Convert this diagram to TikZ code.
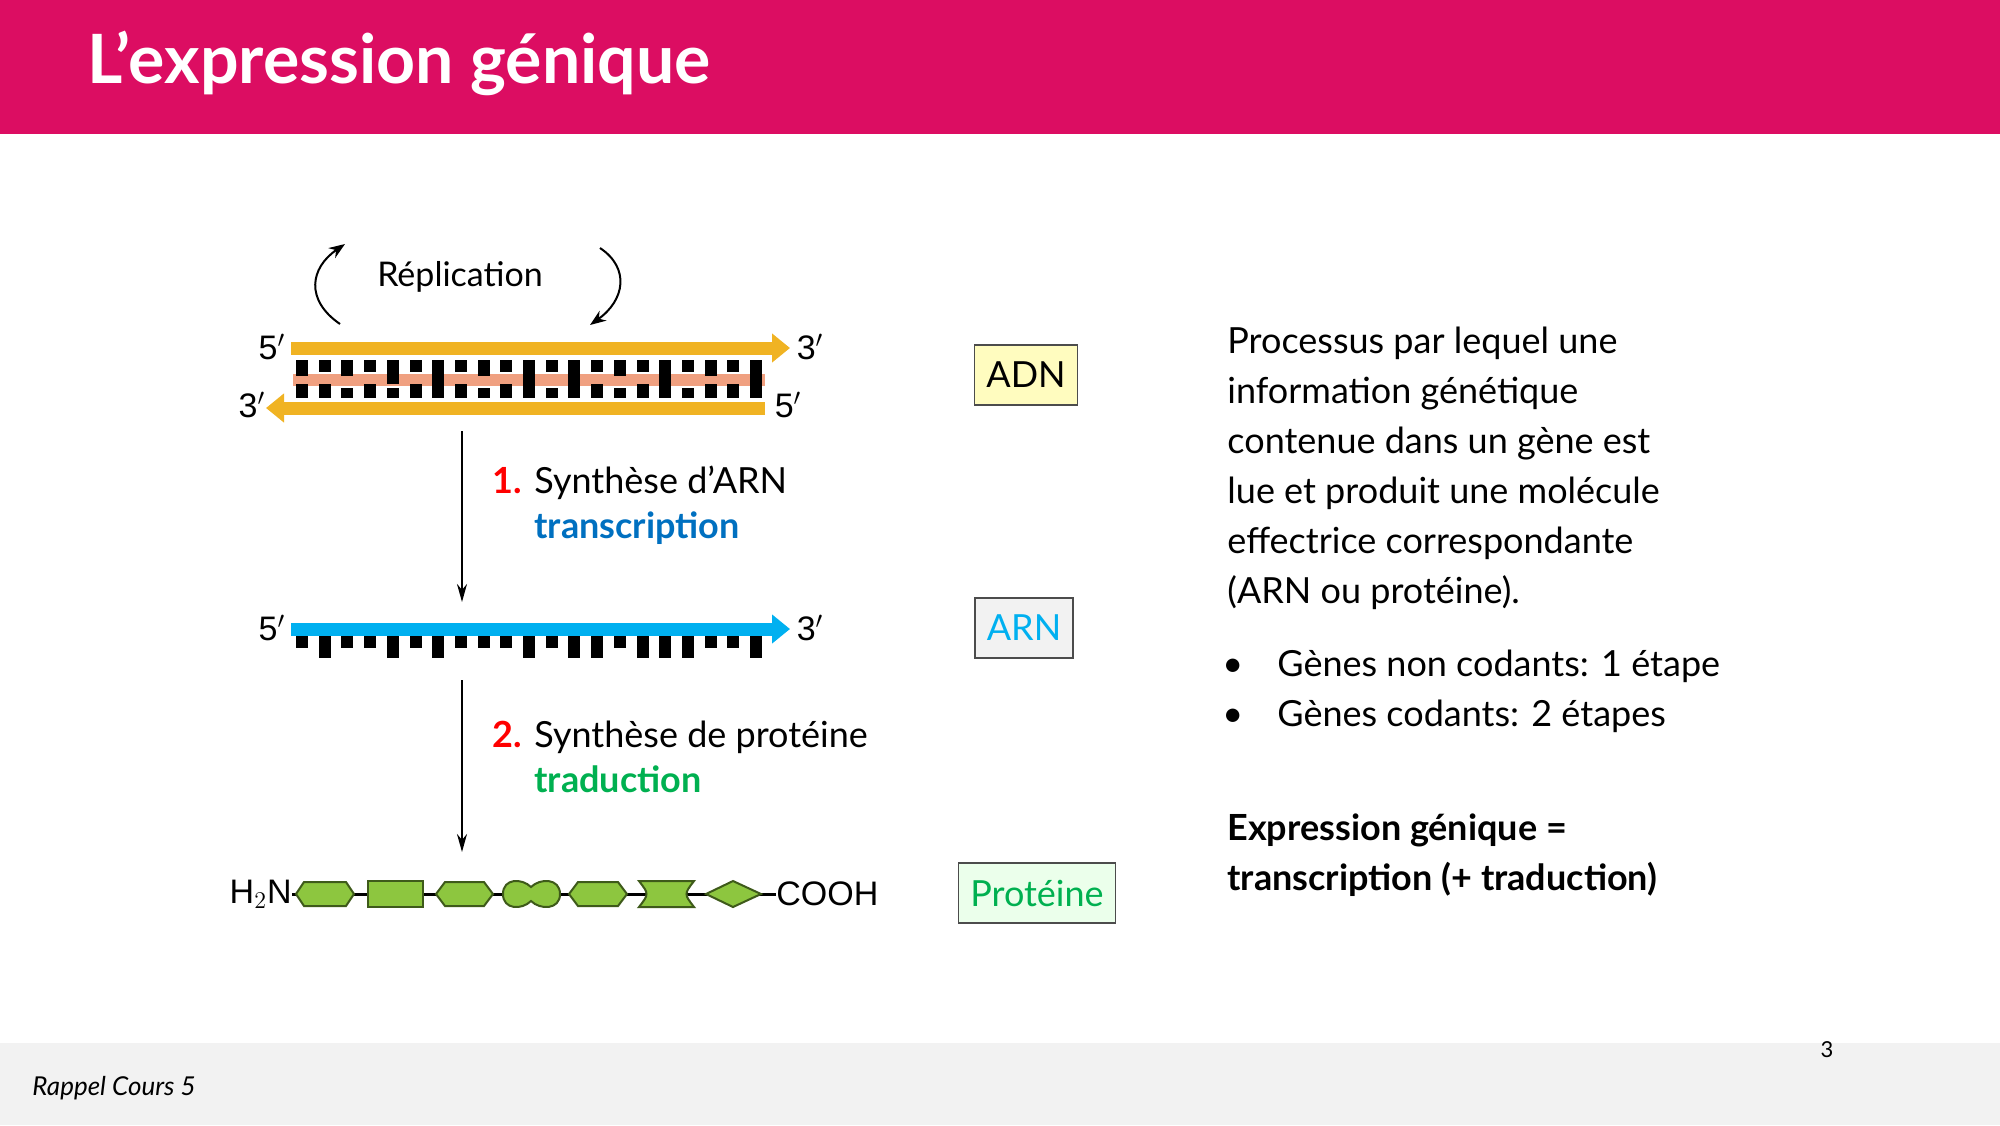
\documentclass[tikz,border=0pt]{standalone}
\usepackage{fontspec}
\setmainfont{Lato}
\newfontfamily\condfont{Liberation Sans}
\usetikzlibrary{arrows.meta,positioning}
\definecolor{headpink}{HTML}{DC0D62}
\definecolor{dnaorange}{HTML}{F0B323}
\definecolor{rnablue}{HTML}{00B0F0}
\definecolor{salmon}{HTML}{F0A080}
\definecolor{protgreen}{HTML}{8DC63F}
\definecolor{protedge}{HTML}{3E5A1A}
\definecolor{txtblue}{HTML}{0070C0}
\definecolor{txtgreen}{HTML}{00B050}
\tikzset{
  body/.style={anchor=base west,font=\fontsize{18}{22}\selectfont,inner sep=0pt},
  prime/.style={font=\condfont\fontsize{17}{20}\selectfont,inner sep=0pt},
  tag/.style={draw=black!70,line width=0.8pt,minimum height=30pt,inner xsep=6pt,font=\fontsize{18}{22}\selectfont},
  strand/.style={line width=6.5pt,-{Triangle[length=9pt,width=14pt]}},
  aa/.style={draw=protedge,fill=protgreen,line width=1pt},
  flow/.style={-{Stealth[length=9pt,width=5pt]},line width=1pt}
}
\begin{document}
\begin{tikzpicture}[x=0.5pt,y=-0.5pt]
\useasboundingbox (0,0) rectangle (2000,1125);
% header and footer
\fill[headpink] (0,0) rectangle (2000,134);
\node[anchor=base west,text=white,font=\bfseries\fontsize{34}{40}\selectfont,inner sep=0pt] (title) at (87,83) {L’expression génique};
\fill[black!5] (0,1043) rectangle (2000,1125);
\node[anchor=base west,font=\itshape\fontsize{13}{16}\selectfont,inner sep=0pt] (foot) at (32,1095) {Rappel Cours 5};
\node[font=\fontsize{11}{13}\selectfont] (page) at (1827,1050) {3};

% replication
\node[font=\fontsize{17}{20}\selectfont] (repl) at (460,277) {Réplication};
\coordinate (rla) at (340,324); \coordinate (rlb) at (345,244);
\coordinate (rra) at (600,248); \coordinate (rrb) at (590,325);
\draw[-{Stealth[length=8pt]},line width=1pt] (rla) .. controls (305,300) and (310,268) .. (rlb);
\draw[-{Stealth[length=8pt]},line width=1pt] (rra) .. controls (630,268) and (625,300) .. (rrb);

% DNA
\fill[salmon] (293,374) rectangle (765,386);
\foreach \i/\a/\b in {0/376/384,1/372/384,2/376/388,3/372/384,4/384/388,5/372/384,6/384/376,7/372/384,8/376/388,9/372/384,10/384/374,11/372/388,12/384/376,13/372/384,14/376/388,15/372/384,16/384/376,17/372/388,18/376/384,19/372/384,20/384/374}
{
  \fill (296+22.7*\i,360) rectangle ++(12,\a-360);
  \fill (296+22.7*\i,\b) rectangle ++(12,398-\b);
}
\coordinate (dtl) at (291,348); \coordinate (dtr) at (790,348);
\coordinate (dbr) at (765,408); \coordinate (dbl) at (266,408);
\draw[strand,dnaorange] (dtl) -- (dtr);
\draw[strand,dnaorange] (dbr) -- (dbl);
\node[prime] (d5a) at (272,347) {5$'$};
\node[prime] (d3a) at (810,347) {3$'$};
\node[prime] (d3b) at (252,405) {3$'$};
\node[prime] (d5b) at (788,405) {5$'$};
\node[tag,fill=yellow!25] (adn) at (1026,375) {ADN};

% step 1
\coordinate (s1a) at (462,431); \coordinate (s1b) at (462,602);
\draw[flow] (s1a) -- (s1b);
\node[body,text=red,font=\bfseries\fontsize{18}{22}\selectfont] (n1) at (492,493) {1.};
\node[body] (syn1) at (534,493) {Synthèse d’ARN};
\node[body,text=txtblue,font=\bfseries\fontsize{18}{22}\selectfont] (transc) at (534,538) {transcription};

% RNA
\foreach \i/\b in {0/648,1/658,2/648,3/648,4/658,5/648,6/658,7/648,8/648,9/648,10/658,11/648,12/658,13/658,14/648,15/658,16/658,17/658,18/648,19/648,20/658}
  \fill (296+22.7*\i,632) rectangle ++(12,\b-632);
\coordinate (rl) at (291,629); \coordinate (rr) at (790,629);
\draw[strand,rnablue] (rl) -- (rr);
\node[prime] (r5) at (272,628) {5$'$};
\node[prime] (r3) at (810,628) {3$'$};
\node[tag,fill=black!5,text=rnablue] (arn) at (1024,628) {ARN};

% step 2
\coordinate (s2a) at (462,680); \coordinate (s2b) at (462,852);
\draw[flow] (s2a) -- (s2b);
\node[body,text=red,font=\bfseries\fontsize{18}{22}\selectfont] (n2) at (492,747) {2.};
\node[body] (syn2) at (534,747) {Synthèse de protéine};
\node[body,text=txtgreen,font=\bfseries\fontsize{18}{22}\selectfont] (trad) at (534,792) {traduction};

% protein
\node[prime,anchor=east] (nterm) at (292,894) {H$_2$N};
\node[prime,anchor=west] (cterm) at (776,894) {COOH};
\draw[line width=1.5pt] (nterm) -- (cterm);
\filldraw[aa] (304,882) -- (346,882) -- (354,894) -- (346,906) -- (304,906) -- (296,894) -- cycle;
\filldraw[aa] (368,881) rectangle (423,907);
\filldraw[aa] (445,882) -- (484,882) -- (493,894) -- (484,906) -- (445,906) -- (436,894) -- cycle;
\filldraw[aa] (503,894) .. controls (503,878) and (522,878) .. (531,887) .. controls (540,878) and (560,878) .. (560,894)
  .. controls (560,910) and (540,910) .. (531,901) .. controls (522,910) and (503,910) .. cycle;
\filldraw[aa] (578,882) -- (618,882) -- (627,894) -- (618,906) -- (578,906) -- (569,894) -- cycle;
\filldraw[aa] (639,881) -- (694,881) .. controls (684,894) .. (694,907) -- (639,907) .. controls (649,894) .. cycle;
\filldraw[aa] (706,894) -- (733,881) -- (761,894) -- (733,907) -- cycle;
\node[tag,fill=green!8,text=txtgreen] (prot) at (1037,893) {Protéine};

% description
\foreach \t [count=\k from 0] in {Processus par lequel une,information génétique,contenue dans un gène est,lue et produit une molécule,effectrice correspondante,(ARN ou protéine).}
  \node[body] (p\k) at (1227,353+50*\k) {\t};
\node[body] (b1) at (1222,676) {\textbullet};
\node[body] (g1) at (1277,676) {Gènes non codants: 1 étape};
\node[body] (b2) at (1222,726) {\textbullet};
\node[body] (g2) at (1277,726) {Gènes codants: 2 étapes};
\node[body,font=\bfseries\fontsize{18}{22}\selectfont] (e1) at (1227,840) {Expression génique =};
\node[body,font=\bfseries\fontsize{18}{22}\selectfont] (e2) at (1227,890) {transcription (+ traduction)};
\end{tikzpicture}
\end{document}
